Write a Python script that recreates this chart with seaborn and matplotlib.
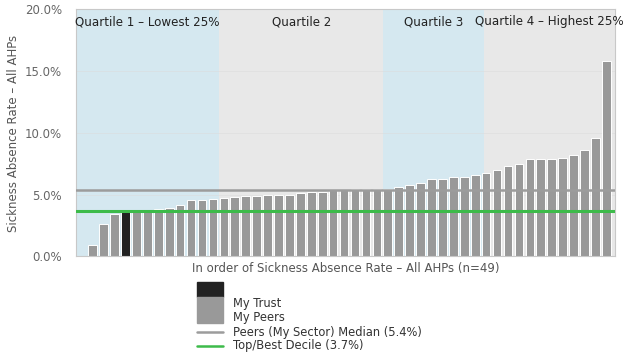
import matplotlib
matplotlib.use("Agg")
import matplotlib.pyplot as plt
from matplotlib.patches import Rectangle
from matplotlib.lines import Line2D
import pandas as pd
import seaborn as sns

# Sickness absence rate (%) per organisation, sorted ascending
rates = [0.9, 2.6, 3.4, 3.6, 3.7, 3.75, 3.8, 3.95, 4.2, 4.55, 4.55, 4.65,
         4.75, 4.85, 4.9, 4.9, 4.95, 4.95, 4.95, 5.1, 5.2, 5.2, 5.35, 5.4,
         5.45, 5.45, 5.45, 5.45, 5.6, 5.75, 5.95, 6.25, 6.3, 6.4, 6.4, 6.6,
         6.75, 7.0, 7.3, 7.45, 7.85, 7.85, 7.9, 8.0, 8.2, 8.6, 9.55, 15.8]
trust_index = 3
median_rate = 5.4
top_decile_rate = 3.7

quartile_names = ["Quartile 1 \u2013 Lowest 25%", "Quartile 2", "Quartile 3",
                  "Quartile 4 \u2013 Highest 25%"]
quartile_edges = [-1.53, 11.6, 26.56, 35.8, 47.79]
y_ticks = [0, 5, 10, 15, 20]
x_title = "In order of Sickness Absence Rate \u2013 All AHPs (n=49)"
y_title = "Sickness Absence Rate \u2013 All AHPs"
legend_labels = ["My Trust", "My Peers",
                 f"Peers (My Sector) Median ({median_rate}%)",
                 f"Top/Best Decile ({top_decile_rate}%)"]

sns.set_theme(style="white")
plt.rcParams["font.family"] = ["DejaVu Sans"]

df = pd.DataFrame({
    "rank": [str(i + 1) for i in range(len(rates))],
    "rate": rates,
    "group": ["My Trust" if i == trust_index else "My Peers" for i in range(len(rates))],
})

W, H = 625, 359
fig = plt.figure(figsize=(W / 100, H / 100), dpi=100)
ax = fig.add_axes([76 / W, 1 - 256.4 / H, 539 / W, 247 / H])

# quartile background bands and their captions
band_colors = ["#d5e8f0", "#e8e8e8", "#d5e8f0", "#e8e8e8"]
for k, name in enumerate(quartile_names):
    lo, hi = quartile_edges[k], quartile_edges[k + 1]
    ax.axvspan(lo, hi, color=band_colors[k], lw=0, zorder=0)
    ax.text((lo + hi) / 2, 19.0, name, ha="center", va="center",
            fontsize=8.6, color="#222222", clip_on=False, zorder=4)

for v in y_ticks[1:-1]:
    ax.axhline(v, color="#dcdcdc", lw=0.6, alpha=0.6, zorder=1)

sns.barplot(data=df, x="rank", y="rate", hue="group",
            palette={"My Trust": "#222222", "My Peers": "#999999"},
            dodge=False, width=0.79, edgecolor="white", linewidth=0.7,
            legend=False, ax=ax, zorder=2)

ax.axhline(median_rate, color="#9c9c9c", lw=1.8, zorder=3)
ax.axhline(top_decile_rate, color="#3dbb4a", lw=2.2, zorder=3)

ax.set_xlim(quartile_edges[0], quartile_edges[-1])
ax.set_ylim(0, 20)
ax.set_yticks(y_ticks)
ax.set_yticklabels([f"{v:.1f}%" for v in y_ticks])
ax.set_xticks([])
ax.tick_params(axis="y", length=0, pad=10, labelcolor="#666666", labelsize=8.5)
ax.set_xlabel(x_title, fontsize=8.5, color="#555555", labelpad=4)
ax.set_ylabel("")
for s in ax.spines.values():
    s.set_color("#c8c8c8")
    s.set_linewidth(0.8)

fig.text(14 / W, 1 - 133 / H, y_title, rotation=90, ha="center", va="center",
         fontsize=8.5, color="#555555")

# legend below the chart
fig.add_artist(Rectangle((197.3 / W, 1 - 296.7 / H), 26 / W, 14.4 / H,
                         transform=fig.transFigure, color="#222222"))
fig.add_artist(Rectangle((197.3 / W, 1 - 322.7 / H), 26 / W, 26 / H,
                         transform=fig.transFigure, color="#999999"))
fig.add_artist(Line2D([197.3 / W, 222.7 / W], [1 - 332.3 / H] * 2,
                      transform=fig.transFigure, color="#9c9c9c", lw=1.8))
fig.add_artist(Line2D([197.3 / W, 222.7 / W], [1 - 346 / H] * 2,
                      transform=fig.transFigure, color="#3dbb4a", lw=1.8))
for label, py in zip(legend_labels, [303.3, 317, 332.3, 345.5]):
    fig.text(232.7 / W, 1 - py / H, label, ha="left", va="center",
             fontsize=8.3, color="#333333")

fig.savefig("out.png", dpi=100)
